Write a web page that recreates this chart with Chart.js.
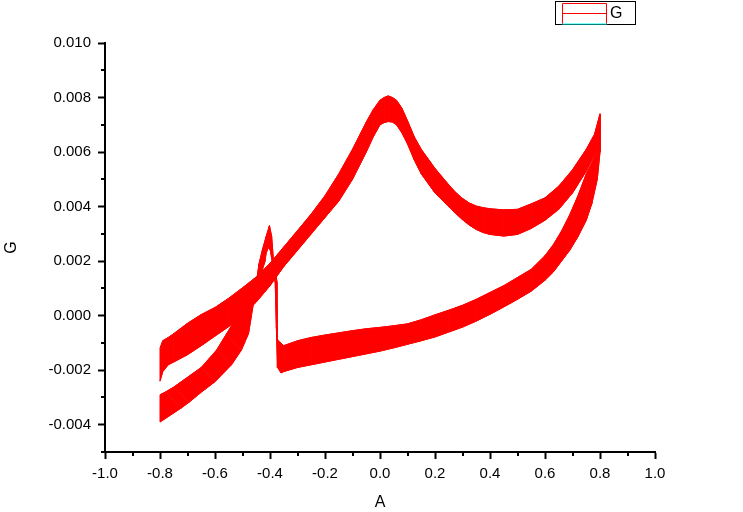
<!DOCTYPE html>
<html>
<head>
<meta charset="utf-8">
<script src="https://cdn.jsdelivr.net/npm/chart.js@4.4.0/dist/chart.umd.min.js"></script>
<style>
  html, body { margin: 0; padding: 0; background: #fff; }
  #wrap { width: 743px; height: 512px; }
</style>
</head>
<body>
<div id="wrap"><canvas id="myChart" width="743" height="512"></canvas></div>
<script>
// forward sweep (-0.8 -> 0.8): outer edge and inner edge of the band
const fwdA = [-0.80, -0.79, -0.77, -0.75, -0.70, -0.65, -0.60, -0.55, -0.50, -0.45, -0.40, -0.35, -0.30, -0.25, -0.20, -0.15, -0.10,
  -0.05, -0.025, 0.00, 0.015, 0.03, 0.045, 0.06, 0.08, 0.10, 0.125, 0.15,
  0.20, 0.25, 0.275, 0.30, 0.325, 0.35, 0.375, 0.40,
  0.45, 0.50, 0.55, 0.60, 0.65, 0.70, 0.75, 0.78, 0.80];
const fwdTop = [-0.0012, -0.00092, -0.0008, -0.00066, -0.00028, 0.00004, 0.0003, 0.00064, 0.00102, 0.00142, 0.00192, 0.00252, 0.00312, 0.00373, 0.0044, 0.0052, 0.0061,
  0.0071, 0.00755, 0.0079, 0.0080, 0.00806, 0.0080, 0.0079, 0.0076, 0.00715, 0.00655, 0.0061,
  0.0054, 0.0048, 0.00452, 0.0043, 0.00413, 0.00402, 0.00396, 0.00392,
  0.00388, 0.0039, 0.0041, 0.00432, 0.00475, 0.00535, 0.0061, 0.00665, 0.0074];
const fwdBottom = [-0.0024, -0.00205, -0.0018, -0.0017, -0.00143, -0.0011, -0.00075, -0.0004, 0.0000, 0.0005, 0.0011, 0.0018, 0.0024, 0.0030, 0.0036, 0.0042, 0.0050,
  0.0060, 0.00655, 0.0070, 0.00708, 0.00712, 0.0071, 0.0070, 0.0067, 0.0063, 0.0057, 0.0052,
  0.0045, 0.0040, 0.00375, 0.00352, 0.00332, 0.00316, 0.00305, 0.00298,
  0.00292, 0.00298, 0.0032, 0.0035, 0.0039, 0.0045, 0.0053, 0.0059, 0.0063];

// reverse sweep (0.8 -> -0.35)
const revA = [0.80, 0.79, 0.77, 0.75, 0.72, 0.69, 0.66, 0.63, 0.60, 0.55, 0.50, 0.45, 0.40, 0.35, 0.30, 0.25, 0.20, 0.15, 0.10, 0.05, 0.00, -0.05, -0.10, -0.15, -0.20, -0.25, -0.30, -0.35];
const revTop = [0.0063, 0.00605, 0.0056, 0.0052, 0.0044, 0.0037, 0.0031, 0.0026, 0.0022, 0.0017, 0.0014, 0.0011, 0.00085, 0.0006, 0.00038, 0.0002, 0.00003, -0.00015, -0.0003, -0.00037, -0.00043, -0.00048, -0.00055, -0.00063, -0.00071, -0.0008, -0.00092, -0.0011];
const revBottom = [0.0060, 0.0050, 0.0041, 0.0035, 0.0029, 0.0024, 0.0020, 0.0016, 0.0013, 0.0009, 0.0006, 0.00032, 0.00005, -0.0002, -0.00042, -0.0006, -0.00078, -0.00092, -0.00105, -0.00118, -0.0013, -0.0014, -0.0015, -0.0016, -0.0017, -0.0018, -0.0019, -0.00205];

// spike near -0.4 and the tail back to -0.8 (edges read separately)
const tailTopA = [-0.372, -0.377, -0.381, -0.392, -0.399, -0.406, -0.414, -0.418, -0.44, -0.48, -0.527, -0.56, -0.594, -0.65, -0.70, -0.75, -0.78, -0.80];
const tailTopG = [-0.0009, -0.0004, 0.0012, 0.0020, 0.0024, 0.0025, 0.0023, 0.0020, 0.0013, 0.0006, -0.00016, -0.0007, -0.00126, -0.0019, -0.00226, -0.00262, -0.0028, -0.0029];
const tailBotA = [-0.36, -0.372, -0.374, -0.388, -0.394, -0.402, -0.414, -0.428, -0.44, -0.458, -0.478, -0.504, -0.54, -0.60, -0.649, -0.695, -0.722, -0.80];
const tailBotG = [-0.0021, -0.0019, 0.0012, 0.0021, 0.0029, 0.0033, 0.0029, 0.0024, 0.0019, 0.0006, -0.00065, -0.00126, -0.0018, -0.00242, -0.0028, -0.00318, -0.00338, -0.0039];

const xTicks = [-1.0, -0.8, -0.6, -0.4, -0.2, 0.0, 0.2, 0.4, 0.6, 0.8, 1.0];
const xMinor = [-0.9, -0.7, -0.5, -0.3, -0.1, 0.1, 0.3, 0.5, 0.7, 0.9];
const yTicks = [-0.004, -0.002, 0.000, 0.002, 0.004, 0.006, 0.008, 0.010];
const yMinor = [-0.005, -0.003, -0.001, 0.001, 0.003, 0.005, 0.007, 0.009];

const fontFam = "'Liberation Sans', Arial, sans-serif";

function pts(xs, ys) {
  return xs.map((x, i) => ({ x: x, y: ys[i] }));
}

const edgeOne = pts(fwdA, fwdTop).concat(pts(revA, revTop), pts(tailTopA, tailTopG));
const edgeTwo = pts(fwdA, fwdBottom).concat(pts(revA, revBottom), pts(tailBotA, tailBotG));

// fill the band between the two edges, one quad per step
const bandFill = {
  id: "bandFill",
  beforeDatasetsDraw(chart) {
    const a = chart.getDatasetMeta(0).data;
    const b = chart.getDatasetMeta(1).data;
    const ctx = chart.ctx;
    ctx.save();
    ctx.fillStyle = "#ff0000";
    ctx.strokeStyle = "#ff0000";
    ctx.lineWidth = 1;
    ctx.lineJoin = "round";
    for (let i = 0; i < a.length - 1; i++) {
      ctx.beginPath();
      ctx.moveTo(a[i].x, a[i].y);
      ctx.lineTo(a[i + 1].x, a[i + 1].y);
      ctx.lineTo(b[i + 1].x, b[i + 1].y);
      ctx.lineTo(b[i].x, b[i].y);
      ctx.closePath();
      ctx.fill();
      ctx.stroke();
    }
    ctx.restore();
  }
};

const minorTicks = {
  id: "minorTicks",
  afterDraw(chart) {
    const { ctx, scales } = chart;
    const x = scales.x;
    const y = scales.y;
    ctx.save();
    ctx.strokeStyle = "#000";
    ctx.lineWidth = 2;
    xMinor.forEach((v) => {
      const px = Math.round(x.getPixelForValue(v));
      ctx.beginPath();
      ctx.moveTo(px, x.top);
      ctx.lineTo(px, x.top + 4);
      ctx.stroke();
    });
    yMinor.forEach((v) => {
      const py = Math.round(y.getPixelForValue(v));
      ctx.beginPath();
      ctx.moveTo(y.right, py);
      ctx.lineTo(y.right - 4, py);
      ctx.stroke();
    });
    ctx.restore();
  }
};

const legendBox = {
  id: "legendBox",
  afterDraw(chart) {
    const ctx = chart.ctx;
    ctx.save();
    ctx.strokeStyle = "#000";
    ctx.lineWidth = 1;
    ctx.strokeRect(555.5, 1.5, 80, 23);
    ctx.strokeStyle = "#ff0000";
    ctx.beginPath();
    ctx.moveTo(562.5, 24);
    ctx.lineTo(562.5, 3.5);
    ctx.lineTo(606.5, 3.5);
    ctx.lineTo(606.5, 24);
    ctx.moveTo(562, 13.5);
    ctx.lineTo(607, 13.5);
    ctx.stroke();
    ctx.strokeStyle = "#00ffff";
    ctx.beginPath();
    ctx.moveTo(562, 24);
    ctx.lineTo(607, 24);
    ctx.stroke();
    ctx.fillStyle = "#000";
    ctx.font = "16px " + fontFam;
    ctx.textBaseline = "middle";
    ctx.fillText("G", 610, 13.5);
    ctx.restore();
  }
};

new Chart("myChart", {
  type: "scatter",
  data: {
    datasets: [
      { label: "G", data: edgeOne, showLine: true, borderColor: "#ff0000", borderWidth: 1, pointRadius: 0, fill: false },
      { label: "G", data: edgeTwo, showLine: true, borderColor: "#ff0000", borderWidth: 1, pointRadius: 0, fill: false }
    ]
  },
  options: {
    responsive: false,
    animation: false,
    devicePixelRatio: 1,
    layout: { padding: { top: 43, right: 88, left: 0, bottom: 0 } },
    plugins: { legend: { display: false }, tooltip: { enabled: false } },
    scales: {
      x: {
        type: "linear",
        min: -1,
        max: 1,
        afterBuildTicks: (s) => { s.ticks = xTicks.map((v) => ({ value: v })); },
        afterFit: (s) => { s.height = 60; },
        ticks: {
          callback: (v) => Number(v).toFixed(1),
          color: "#000",
          font: { family: fontFam, size: 15 },
          padding: 6,
          maxRotation: 0,
          autoSkip: false
        },
        grid: { display: true, drawOnChartArea: false, drawTicks: true, tickLength: 7, tickColor: "#000", tickWidth: 2 },
        border: { display: true, color: "#000", width: 2 },
        title: { display: true, text: "A", color: "#000", font: { family: fontFam, size: 16 }, padding: { top: 0, bottom: 0 } }
      },
      y: {
        type: "linear",
        min: -0.005,
        max: 0.010,
        afterBuildTicks: (s) => { s.ticks = yTicks.map((v) => ({ value: v })); },
        afterFit: (s) => { s.width = 105; },
        ticks: {
          callback: (v) => Number(v).toFixed(3),
          color: "#000",
          font: { family: fontFam, size: 15 },
          padding: 7,
          autoSkip: false
        },
        grid: { display: true, drawOnChartArea: false, drawTicks: true, tickLength: 7, tickColor: "#000", tickWidth: 2 },
        border: { display: true, color: "#000", width: 2 },
        title: { display: true, text: "G", color: "#000", font: { family: fontFam, size: 16 }, padding: { top: 2, bottom: 0 } }
      }
    }
  },
  plugins: [bandFill, minorTicks, legendBox]
});
</script>
</body>
</html>
